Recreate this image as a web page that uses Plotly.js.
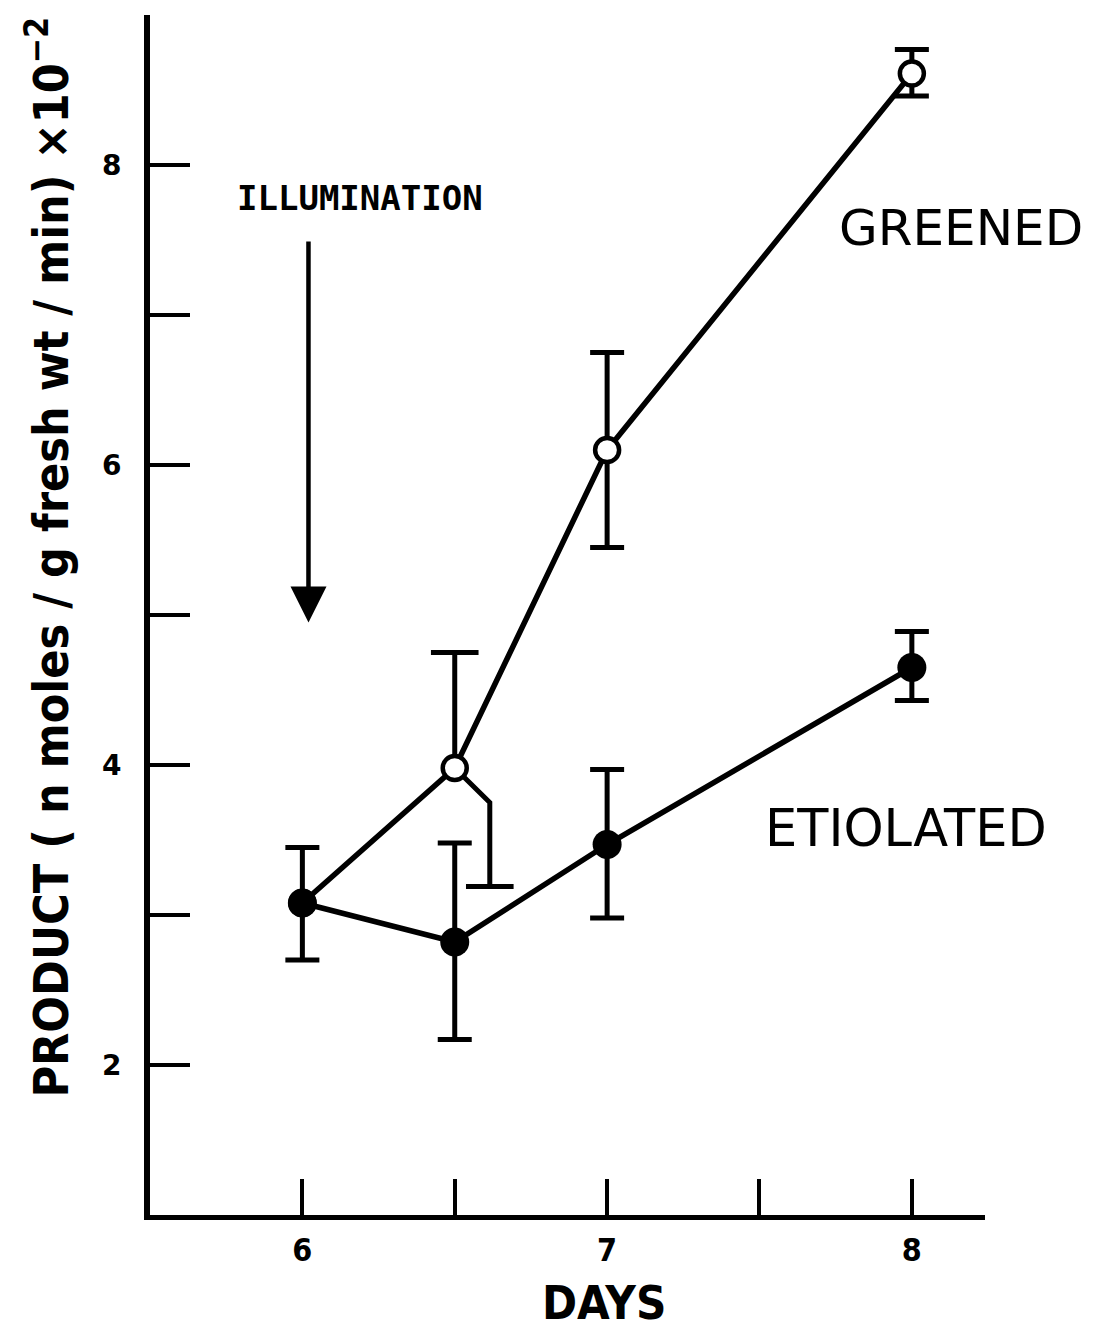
<!DOCTYPE html>
<html>
<head>
<meta charset="utf-8">
<script src="https://cdn.plot.ly/plotly-3.0.1.min.js"></script>
<style>html,body{margin:0;padding:0;background:#fff;}</style>
</head>
<body>
<div id="chart" style="width:1094px;height:1332px;"></div>
<script>
// ---- data ----
const days = [6, 6.5, 7, 8];
const greened = [3.08, 3.98, 6.10, 8.61];
const greenedHi = [null, 4.75, 6.75, 8.77];
const greenedLo = [null, 3.19, 5.45, 8.46];
const etiolated = [3.08, 2.82, 3.47, 4.65];
const etiolatedHi = [3.45, 3.48, 3.97, 4.89];
const etiolatedLo = [2.70, 2.17, 2.98, 4.43];
// greened day-6.5 lower whisker is drawn offset to the right in the original
const offsetIdx = 1;
const offsetWhiskerX = 6.615;
const offsetElbowY = 3.75;

const xTickVals = [6, 6.5, 7, 7.5, 8];
const xTickText = ['6', '', '7', '', '8'];
const yTickVals = [2, 3, 4, 5, 6, 7, 8, 9];
const yTickText = ['2', '', '4', '', '6', '', '8', ''];

const K = '#000';
const traces = [];

// regular error bars (greened, all except offset point)
const gIdx = days.map((d, i) => i).filter(i => greenedHi[i] !== null && i !== offsetIdx);
traces.push({
  x: gIdx.map(i => days[i]), y: gIdx.map(i => greened[i]),
  mode: 'markers', marker: {opacity: 0, size: 1}, showlegend: false, hoverinfo: 'skip',
  error_y: {type: 'data', symmetric: false,
    array: gIdx.map(i => greenedHi[i] - greened[i]),
    arrayminus: gIdx.map(i => greened[i] - greenedLo[i]),
    color: K, thickness: 5, width: 17}
});
traces.push({
  x: days, y: etiolated,
  mode: 'markers', marker: {opacity: 0, size: 1}, showlegend: false, hoverinfo: 'skip',
  error_y: {type: 'data', symmetric: false,
    array: etiolated.map((v, i) => etiolatedHi[i] - v),
    arrayminus: etiolated.map((v, i) => v - etiolatedLo[i]),
    color: K, thickness: 5, width: 17}
});
// offset point whiskers
traces.push({
  x: [days[offsetIdx], days[offsetIdx]], y: [greened[offsetIdx], greenedHi[offsetIdx]],
  mode: 'lines', line: {color: K, width: 5}, showlegend: false, hoverinfo: 'skip'
});
traces.push({
  x: [days[offsetIdx], offsetWhiskerX, offsetWhiskerX],
  y: [greened[offsetIdx], offsetElbowY, greenedLo[offsetIdx]],
  mode: 'lines', line: {color: K, width: 5}, showlegend: false, hoverinfo: 'skip'
});
traces.push({
  x: [days[offsetIdx], offsetWhiskerX], y: [greenedHi[offsetIdx], greenedLo[offsetIdx]],
  mode: 'markers', marker: {symbol: 'line-ew', size: 34, line: {color: K, width: 5}},
  showlegend: false, hoverinfo: 'skip'
});
// main series
traces.push({
  x: days, y: greened, mode: 'lines+markers', name: 'GREENED',
  line: {color: K, width: 5.5},
  marker: {color: '#fff', size: 24, line: {color: K, width: 4.5}}, showlegend: false
});
traces.push({
  x: days, y: etiolated, mode: 'lines+markers', name: 'ETIOLATED',
  line: {color: K, width: 5.5},
  marker: {color: K, size: 29, line: {width: 0}}, showlegend: false
});

const layout = {
  width: 1094, height: 1332,
  margin: {l: 150, r: 109, t: 15, b: 117},
  paper_bgcolor: '#fff', plot_bgcolor: '#fff',
  font: {family: 'DejaVu Sans', color: K},
  xaxis: {
    range: [5.5, 8.24], showgrid: false, zeroline: false,
    showline: true, linewidth: 5, linecolor: K,
    ticks: 'inside', ticklen: 36, tickwidth: 4, tickcolor: K,
    tickvals: xTickVals, ticktext: xTickText,
    tickfont: {family: 'DejaVu Sans Condensed', size: 32, color: K, weight: 'bold'},
    ticklabelstandoff: 3
  },
  yaxis: {
    range: [1, 9], showgrid: false, zeroline: false,
    showline: true, linewidth: 6, linecolor: K,
    ticks: 'inside', ticklen: 40, tickwidth: 4, tickcolor: K,
    tickvals: yTickVals, ticktext: yTickText,
    tickfont: {family: 'DejaVu Sans', size: 28, color: K, weight: 'bold'},
    ticklabelstandoff: 17
  },
  annotations: [
    {xref: 'paper', yref: 'paper', x: -0.122, y: 0.548, xanchor: 'center', yanchor: 'middle',
     textangle: -90, showarrow: false,
     text: 'PRODUCT ( n moles / g fresh wt / min) ×10<sup>−2</sup>',
     font: {family: 'DejaVu Sans Condensed', size: 48, color: K, weight: 'bold'}},
    {xref: 'x', yref: 'paper', x: 6.99, y: -0.0725, xanchor: 'center', yanchor: 'middle',
     showarrow: false, text: 'DAYS',
     font: {family: 'DejaVu Sans Condensed', size: 47, color: K, weight: 'bold'}},
    {xref: 'x', yref: 'y', x: 8.16, y: 7.58, showarrow: false, text: 'GREENED',
     font: {family: 'DejaVu Sans', size: 50, color: K}},
    {xref: 'x', yref: 'y', x: 7.98, y: 3.58, showarrow: false, text: 'ETIOLATED',
     font: {family: 'DejaVu Sans', size: 51, color: K}},
    {xref: 'x', yref: 'y', x: 6.19, y: 7.78, showarrow: false, text: 'ILLUMINATION',
     font: {family: 'DejaVu Sans Mono', size: 34, color: K, weight: 'bold'}},
    {xref: 'x', yref: 'y', x: 6.02, y: 4.95, axref: 'x', ayref: 'y', ax: 6.02, ay: 7.5,
     showarrow: true, text: '', arrowhead: 2, arrowsize: 1.6, arrowwidth: 4.5, arrowcolor: K, standoff: 0}
  ]
};

Plotly.newPlot('chart', traces, layout, {staticPlot: true, displayModeBar: false});
</script>
</body>
</html>
